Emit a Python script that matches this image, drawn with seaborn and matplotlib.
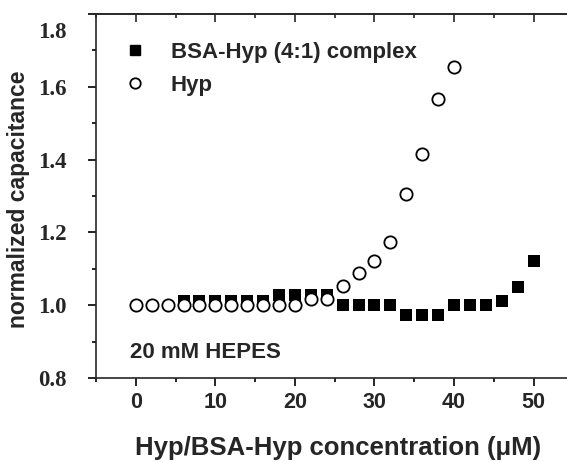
import matplotlib
matplotlib.use("Agg")
import matplotlib.pyplot as plt
from matplotlib.ticker import MultipleLocator
from matplotlib.lines import Line2D
from matplotlib.transforms import ScaledTranslation
import seaborn as sns
import pandas as pd

# data
hyp_x = [0, 2, 4, 6, 8, 10, 12, 14, 16, 18, 20, 22, 24, 26, 28, 30, 32, 34, 36, 38, 40]
hyp_y = [1.0, 1.0, 1.0, 1.0, 1.0, 1.0, 1.0, 1.0, 1.0, 1.0, 1.0, 1.018, 1.018,
         1.054, 1.088, 1.121, 1.173, 1.306, 1.415, 1.567, 1.654]

bsa_x = [6, 8, 10, 12, 14, 16, 18, 20, 22, 24, 26, 28, 30, 32, 34, 36, 38, 40, 42, 44, 46, 48, 50]
bsa_y = [1.011, 1.011, 1.011, 1.011, 1.011, 1.011, 1.029, 1.029, 1.029, 1.029,
         1.0, 1.0, 1.0, 1.0, 0.973, 0.973, 0.973, 1.0, 1.0, 1.0, 1.011, 1.05, 1.121]

x_ticks = [0, 10, 20, 30, 40, 50]
y_ticks = [0.8, 1.0, 1.2, 1.4, 1.6, 1.8]

bsa = pd.DataFrame({"x": bsa_x, "y": bsa_y})
hyp = pd.DataFrame({"x": hyp_x, "y": hyp_y})

sns.set_style("ticks")
plt.rcParams["font.family"] = ["Liberation Sans", "DejaVu Sans"]

fig = plt.figure(figsize=(5.67, 4.62), dpi=100)
ax = fig.add_axes([0.1693, 0.1818, 0.8307, 0.7879])

sns.scatterplot(data=bsa, x="x", y="y", marker="s", s=65, color="black",
                edgecolor="black", linewidth=0, ax=ax, zorder=2)
sns.scatterplot(data=hyp, x="x", y="y", marker="o", s=78, facecolor="white",
                edgecolor="black", linewidth=1.3, ax=ax, zorder=3)

ax.set_xlim(-5, 54.2)
ax.set_ylim(0.8, 1.8)
ax.xaxis.set_minor_locator(MultipleLocator(5))
ax.yaxis.set_minor_locator(MultipleLocator(0.1))

ax.spines["right"].set_visible(False)
for s in ["left", "bottom", "top"]:
    ax.spines[s].set_linewidth(1.2)

ax.tick_params(axis="both", which="both", width=1.2, color="black", direction="out")
ax.tick_params(axis="x", which="major", length=6, pad=4)
ax.tick_params(axis="x", which="minor", length=3)
ax.tick_params(axis="y", which="major", length=6, pad=15)
ax.tick_params(axis="y", which="minor", length=3)

# top ticks point into the plot
top = ax.secondary_xaxis("top")
top.xaxis.set_major_locator(MultipleLocator(10))
top.xaxis.set_minor_locator(MultipleLocator(5))
top.tick_params(which="both", direction="in", width=1.2, labeltop=False)
top.tick_params(which="major", length=6)
top.tick_params(which="minor", length=3)
top.spines["top"].set_linewidth(1.2)

ax.set_xticks(x_ticks)
ax.set_xticklabels([str(v) for v in x_ticks], fontsize=15.5, fontweight="bold")
ax.set_yticks(y_ticks)
ax.set_yticklabels([f"{v:.1f}" for v in y_ticks], fontsize=16.5, fontweight="bold",
                   family="Liberation Serif")
# the top label sits a bit lower in the original
lab = ax.yaxis.get_major_ticks()[-1].label1
lab.set_transform(lab.get_transform() + ScaledTranslation(0, -0.16, fig.dpi_scale_trans))

ax.set_xlabel("Hyp/BSA-Hyp concentration (\u03bcM)", fontsize=18.5, fontweight="bold")
ax.xaxis.set_label_coords(0.514, -0.16)
ax.set_ylabel("normalized capacitance", fontsize=16.5, fontweight="bold")
ax.yaxis.set_label_coords(-0.14, 0.49)

handles = [
    Line2D([], [], marker="s", linestyle="none", color="black", markersize=7),
    Line2D([], [], marker="o", linestyle="none", markerfacecolor="white",
           markeredgecolor="black", markeredgewidth=1.3, markersize=7.5),
]
ax.legend(handles, ["BSA-Hyp (4:1) complex", "Hyp"], loc="upper left",
          bbox_to_anchor=(0.0594, 0.9235), frameon=False, borderpad=0,
          borderaxespad=0, handlelength=1.0, handletextpad=1.1, labelspacing=0.53,
          prop={"weight": "bold", "size": 16})

ax.text(0.072, 0.069, "20 mM HEPES", transform=ax.transAxes, fontsize=16,
        fontweight="bold", va="center")

fig.savefig("out.png", dpi=100)
